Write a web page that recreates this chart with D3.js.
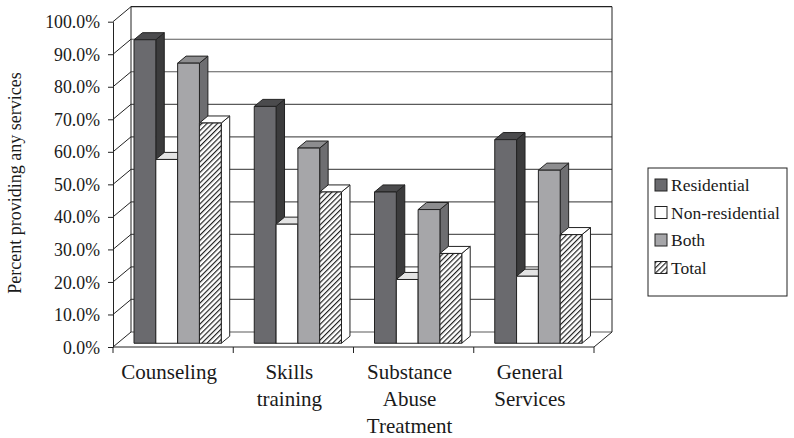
<!DOCTYPE html>
<html>
<head>
<meta charset="utf-8">
<script src="https://cdn.jsdelivr.net/npm/d3@7/dist/d3.min.js"></script>
<style>
  html, body { margin: 0; padding: 0; background: #fff; }
  svg { display: block; font-family: "Liberation Serif", "Times New Roman", serif; }
</style>
</head>
<body>
<svg id="chart" width="794" height="438"></svg>
<script>
// Service categories (label lines) and the four provider groups
const categories = ["Counseling", "Skills training", "Substance Abuse Treatment", "General Services"];
const categoryLines = [["Counseling"], ["Skills", "training"], ["Substance", "Abuse", "Treatment"], ["General", "Services"]];
const seriesNames = ["Residential", "Non-residential", "Both", "Total"];

// Percent of programs providing each service
const residential    = [93.3, 72.8, 46.5, 62.6];
const nonResidential = [56.5, 36.6, 19.6, 20.6];
const both           = [86.1, 60.0, 41.1, 53.2];
const total          = [67.7, 46.5, 27.6, 33.4];
const seriesValues = [residential, nonResidential, both, total];

const yTicks = [0, 10, 20, 30, 40, 50, 60, 70, 80, 90, 100];
const yTitle = "Percent providing any services";

const svg = d3.select("#chart");

// Plot frame: front floor edge and the depth offset to the back wall
const left = 113, right = 594;
const depthX = 18, depthY = -15;
const barFront = 0.25, barBack = 0.72;

const x = d3.scaleBand().domain(categories).range([left, right]).paddingInner(0).paddingOuter(0);
const inner = d3.scaleBand().domain(seriesNames).range([16.5, x.bandwidth() - 16.5]);
const y = d3.scaleLinear().domain([0, 100]).range([347, 21.7]);

// Hatch for the "Total" series
const defs = svg.append("defs");
const pat = defs.append("pattern")
  .attr("id", "hatch").attr("patternUnits", "userSpaceOnUse")
  .attr("width", 3.7).attr("height", 3.7)
  .attr("patternTransform", "rotate(45)");
pat.append("rect").attr("width", 3.7).attr("height", 3.7).attr("fill", "#fff");
pat.append("line").attr("x1", 0.6).attr("y1", 0).attr("x2", 0.6).attr("y2", 3.7)
  .attr("stroke", "#111").attr("stroke-width", 1.1);

const faces = {
  "Residential":     { front: "#6a6a6e", top: "#4b4b4d", side: "#3b3b3c" },
  "Non-residential": { front: "#ffffff", top: "#e4e4e4", side: "#c8c8c8" },
  "Both":            { front: "#a6a6a9", top: "#8d8d8f", side: "#6e6e71" },
  "Total":           { front: "url(#hatch)", top: "#ffffff", side: "#ffffff" }
};

// Walls: gridlines on the back wall and diagonals on the side wall
const walls = svg.append("g");
const gridColor = "#5a5a5a";
walls.selectAll("line.back").data(yTicks).join("line")
  .attr("x1", left + depthX).attr("x2", right + depthX)
  .attr("y1", d => y(d) + depthY).attr("y2", d => y(d) + depthY)
  .attr("stroke", (d, i) => i === yTicks.length - 1 ? "#222" : gridColor)
  .attr("stroke-width", 1.2);
walls.selectAll("line.side").data(yTicks).join("line")
  .attr("x1", left).attr("x2", left + depthX)
  .attr("y1", d => y(d)).attr("y2", d => y(d) + depthY)
  .attr("stroke", "#222").attr("stroke-width", 1);
// back wall vertical edges
walls.append("line").attr("x1", left + depthX).attr("x2", left + depthX)
  .attr("y1", y(100) + depthY).attr("y2", y(0) + depthY).attr("stroke", "#222");
walls.append("line").attr("x1", right + depthX).attr("x2", right + depthX)
  .attr("y1", y(100) + depthY).attr("y2", y(0) + depthY).attr("stroke", "#222");
// floor right edge
walls.append("line").attr("x1", right).attr("x2", right + depthX)
  .attr("y1", y(0)).attr("y2", y(0) + depthY).attr("stroke", "#222");

// Bars: side, top, then front face, drawn left to right
const ox = barFront * depthX, oy = barFront * depthY;
const dx = (barBack - barFront) * depthX, dy = (barBack - barFront) * depthY;
const bars = svg.append("g").attr("stroke", "#222").attr("stroke-width", 1).attr("stroke-linejoin", "round");
categories.forEach((cat, ci) => {
  seriesNames.forEach((s, si) => {
    const v = seriesValues[si][ci];
    const x0 = x(cat) + inner(s) + ox;
    const w = inner.bandwidth();
    const yt = y(v) + oy, yb = y(0) + oy;
    const f = faces[s];
    const g = bars.append("g");
    g.append("polygon").attr("fill", f.side)
      .attr("points", [[x0 + w, yt], [x0 + w + dx, yt + dy], [x0 + w + dx, yb + dy], [x0 + w, yb]].join(" "));
    g.append("polygon").attr("fill", f.top)
      .attr("points", [[x0, yt], [x0 + w, yt], [x0 + w + dx, yt + dy], [x0 + dx, yt + dy]].join(" "));
    g.append("rect").attr("fill", f.front)
      .attr("x", x0).attr("y", yt).attr("width", w).attr("height", yb - yt);
  });
});

// Value axis
const yAxis = svg.append("g").attr("transform", `translate(${left},0)`)
  .call(d3.axisLeft(y).tickValues(yTicks).tickFormat(d => d.toFixed(1) + "%").tickSize(5).tickPadding(8).tickSizeOuter(0));
yAxis.select(".domain").attr("stroke", "#222");
yAxis.selectAll(".tick line").attr("stroke", "#222");
yAxis.selectAll(".tick text").attr("font-size", "17.8px").attr("fill", "#1a1a1a")
  .attr("font-family", "Liberation Serif, serif").attr("dy", "0.34em");

// Category axis: front floor edge with ticks between categories
const xg = svg.append("g");
xg.append("line").attr("x1", left).attr("x2", right).attr("y1", y(0)).attr("y2", y(0)).attr("stroke", "#222");
const bounds = categories.map(c => x(c)).concat([x(categories[categories.length - 1]) + x.bandwidth()]);
xg.selectAll("line.tick").data(bounds).join("line")
  .attr("x1", d => d).attr("x2", d => d).attr("y1", y(0)).attr("y2", y(0) + 6).attr("stroke", "#222");
const labels = xg.selectAll("text").data(categories).join("text")
  .attr("text-anchor", "middle").attr("font-size", "21px").attr("fill", "#1a1a1a")
  .attr("x", d => x(d) + x.bandwidth() / 2 - 4).attr("y", 379);
labels.each(function(d, i) {
  d3.select(this).selectAll("tspan").data(categoryLines[i]).join("tspan")
    .attr("x", x(d) + x.bandwidth() / 2 - 4)
    .attr("dy", (t, j) => j === 0 ? 0 : 27)
    .text(t => t);
});

// Axis title
svg.append("text")
  .attr("transform", "translate(21,183) rotate(-90)")
  .attr("text-anchor", "middle").attr("font-size", "18px").attr("fill", "#1a1a1a")
  .text(yTitle);

// Legend
const legend = svg.append("g");
legend.append("rect").attr("x", 648).attr("y", 168).attr("width", 139).attr("height", 128)
  .attr("fill", "#fff").attr("stroke", "#222").attr("stroke-width", 1);
const items = legend.selectAll("g.item").data(seriesNames).join("g")
  .attr("transform", (d, i) => `translate(655,${185 + i * 27.5})`);
items.append("rect").attr("x", 0).attr("y", -6).attr("width", 12).attr("height", 12)
  .attr("fill", d => faces[d].front).attr("stroke", "#222").attr("stroke-width", 1);
items.append("text").attr("x", 16).attr("y", 6).attr("font-size", "17.5px").attr("fill", "#1a1a1a")
  .text(d => d);
</script>
</body>
</html>
